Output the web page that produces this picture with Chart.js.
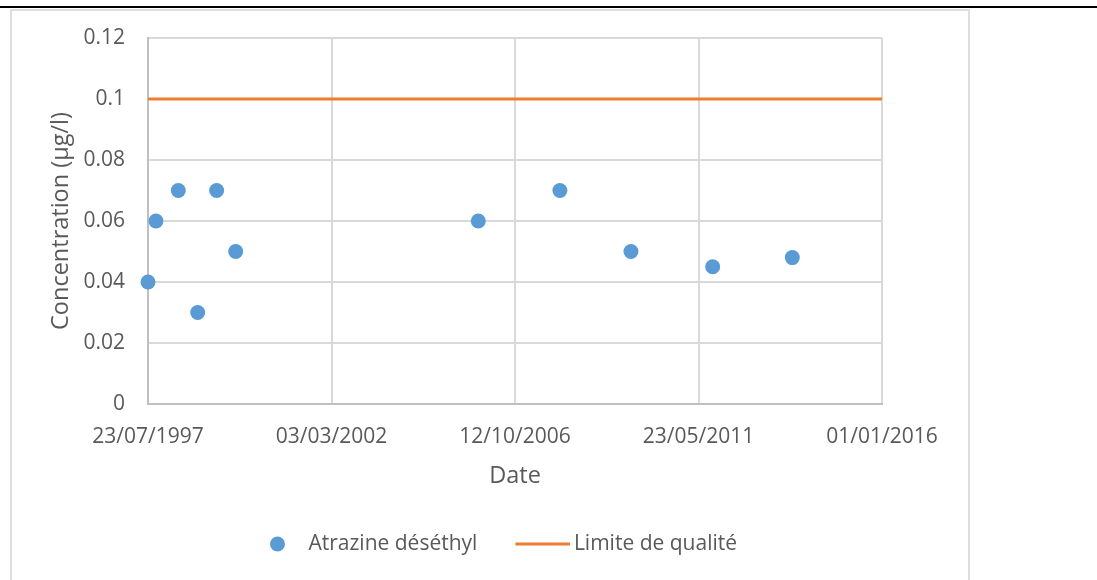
<!DOCTYPE html>
<html>
<head>
<meta charset="utf-8">
<script src="https://cdn.jsdelivr.net/npm/chart.js@4/dist/chart.umd.min.js"></script>
<style>
  html, body { margin: 0; padding: 0; background: #fff; }
  body { width: 1097px; height: 580px; position: relative; overflow: hidden; }
  .topline { position: absolute; left: 0; top: 6px; width: 1097px; height: 2px; background: #000; }
  .frame { position: absolute; left: 10px; top: 9px; width: 956px; height: 600px; border: 2px solid #dedede; border-bottom: none; }
  .wrap { position: absolute; left: 12px; top: 11px; width: 956px; height: 569px; }
</style>
</head>
<body>
<div class="topline"></div>
<div class="frame"></div>
<div class="wrap"><canvas id="chart"></canvas></div>
<script>
const sampleDates = ['1997-07-23', '1997-10-04', '1998-04-27', '1998-10-22', '1999-04-14', '1999-10-06',
                     '2005-11-09', '2007-11-28', '2009-09-10', '2011-09-30', '2013-09-30'];
const atrazineValues = [0.04, 0.06, 0.07, 0.03, 0.07, 0.05, 0.06, 0.07, 0.05, 0.045, 0.048];

// Limite de qualité (ligne horizontale)
const limitDates = ['1997-07-23', '2016-01-01'];
const limitValues = [0.1, 0.1];

// Graduations des axes
const xTickDates = ['1997-07-23', '2002-03-03', '2006-10-12', '2011-05-23', '2016-01-01'];
const yTicks = [0, 0.02, 0.04, 0.06, 0.08, 0.1, 0.12];

const BLUE = '#5B9BD5';
const ORANGE = '#ED7D31';
const TEXT = '#595959';
const FONT = { family: "'Open Sans', sans-serif", size: 21 };
const TITLE_FONT = { family: "'Open Sans', sans-serif", size: 23.5 };

function toDay(iso) {
    const [y, m, d] = iso.split('-').map(Number);
    return Date.UTC(y, m - 1, d) / 86400000;
}

function formatDay(day) {
    const dt = new Date(day * 86400000);
    const dd = String(dt.getUTCDate()).padStart(2, '0');
    const mm = String(dt.getUTCMonth() + 1).padStart(2, '0');
    return dd + '/' + mm + '/' + dt.getUTCFullYear();
}

// Marqueurs de légende façon Excel
function legendCircle() {
    const c = document.createElement('canvas');
    c.width = 55; c.height = 16;
    const g = c.getContext('2d');
    g.fillStyle = BLUE;
    g.beginPath();
    g.arc(34.5, 8, 7.5, 0, Math.PI * 2);
    g.fill();
    return c;
}

function legendLine() {
    // plus large que la boîte pour coller le trait au texte
    const c = document.createElement('canvas');
    c.width = 69; c.height = 4;
    const g = c.getContext('2d');
    g.fillStyle = ORANGE;
    g.fillRect(14, 0.5, 55, 3);
    return c;
}

// La légende est centrée sur tout le cadre, comme dans Excel
const legendSpan = {
    id: 'legendSpan',
    afterLayout(chart) {
        if (chart.legend) {
            chart.legend.left = 0;
            chart.legend.right = chart.width;
        }
    }
};

document.addEventListener('DOMContentLoaded', function() {
    const ctx = document.getElementById('chart').getContext('2d');
    const markers = [legendCircle(), legendLine()];

    new Chart(ctx, {
        type: 'scatter',
        data: {
            datasets: [{
                label: 'Atrazine déséthyl',
                data: sampleDates.map((d, i) => ({ x: toDay(d), y: atrazineValues[i] })),
                backgroundColor: BLUE,
                borderWidth: 0,
                pointRadius: 7.5,
                pointHoverRadius: 7.5,
                clip: false,
                order: 1
            }, {
                type: 'line',
                label: 'Limite de qualité',
                data: limitDates.map((d, i) => ({ x: toDay(d), y: limitValues[i] })),
                borderColor: ORANGE,
                backgroundColor: ORANGE,
                borderWidth: 3,
                pointRadius: 0,
                fill: false,
                order: 2
            }]
        },
        plugins: [legendSpan],
        options: {
            responsive: true,
            maintainAspectRatio: false,
            animation: false,
            layout: { padding: { top: 27, right: 86, left: 0, bottom: 15.5 } },
            scales: {
                x: {
                    type: 'linear',
                    min: toDay(xTickDates[0]),
                    max: toDay(xTickDates[xTickDates.length - 1]),
                    afterBuildTicks: axis => { axis.ticks = xTickDates.map(d => ({ value: toDay(d) })); },
                    afterFit: axis => { axis.height = 98.5; },
                    grid: { color: '#D9D9D9', lineWidth: 2, drawTicks: false },
                    border: { color: '#BFBFBF', width: 2 },
                    ticks: {
                        color: TEXT, font: FONT, padding: 20, maxRotation: 0, autoSkip: false,
                        callback: v => formatDay(v)
                    },
                    title: {
                        display: true, text: 'Date', color: TEXT, font: TITLE_FONT,
                        padding: { top: 0, bottom: 12.4 }
                    }
                },
                y: {
                    min: 0,
                    max: 0.12,
                    afterBuildTicks: axis => { axis.ticks = yTicks.map(v => ({ value: v })); },
                    afterFit: axis => {
                        axis.width = 136;
                        axis.paddingTop = 0;
                        axis.paddingBottom = 0;
                    },
                    grid: { color: '#D9D9D9', lineWidth: 2, drawTicks: false },
                    border: { color: '#BFBFBF', width: 2 },
                    ticks: {
                        color: TEXT, font: FONT, padding: 23,
                        callback: v => String(+v.toFixed(2))
                    },
                    title: {
                        display: true, text: 'Concentration (µg/l)', color: TEXT, font: TITLE_FONT,
                        padding: { top: 35, bottom: 0 }
                    }
                }
            },
            plugins: {
                legend: {
                    position: 'bottom',
                    labels: {
                        color: TEXT,
                        font: FONT,
                        usePointStyle: true,
                        pointStyleWidth: 55,
                        padding: 31,
                        generateLabels: chart => {
                            const items = Chart.defaults.plugins.legend.labels.generateLabels(chart);
                            items.forEach((it, i) => { it.pointStyle = markers[i]; });
                            return items;
                        }
                    }
                },
                tooltip: { enabled: false }
            }
        }
    });
});
</script>
</body>
</html>
